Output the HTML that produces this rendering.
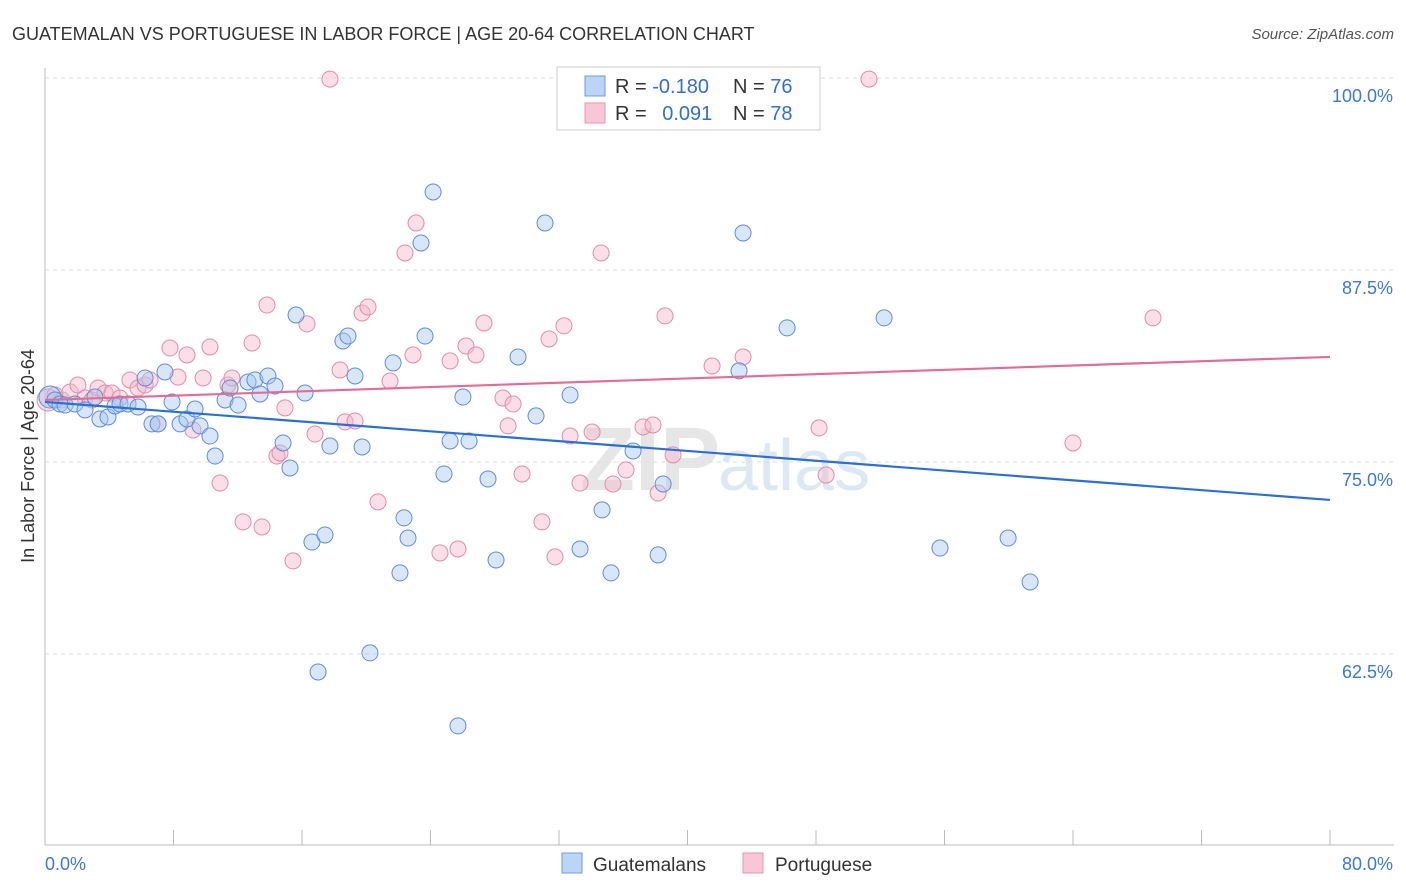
<!DOCTYPE html>
<html><head><meta charset="utf-8">
<style>
body{margin:0;background:#fff;font-family:"Liberation Sans",sans-serif;}
#wrap{position:relative;width:1406px;height:892px;overflow:hidden;}
</style></head>
<body>
<div id="wrap">
<svg id="svg" width="1406" height="892" xmlns="http://www.w3.org/2000/svg">
<text x="12" y="40" font-size="18" fill="#333">GUATEMALAN VS PORTUGUESE IN LABOR FORCE | AGE 20-64 CORRELATION CHART</text>
<text x="1394" y="39" font-size="15" fill="#555" font-style="italic" text-anchor="end">Source: ZipAtlas.com</text>
<text x="720" y="490" font-size="90" font-weight="bold" fill="#e6e6e6" text-anchor="end">ZIP</text>
<text x="718" y="490" font-size="72" fill="#dde8f5">atlas</text>
<g id="grid"></g>
<g id="axes"></g>
<g id="pts"></g>
<g id="lines"></g>
<text transform="translate(34,456) rotate(-90)" font-size="18" fill="#333" text-anchor="middle">In Labor Force | Age 20-64</text>
<g>
<rect x="557" y="67" width="263" height="63" fill="#fff" stroke="#ccc"/>
<rect x="585" y="76" width="20" height="20" fill="#bcd4f5" stroke="#6a9be0"/>
<rect x="585" y="103" width="20" height="20" fill="#f8c6d6" stroke="#e895b2"/>
<text x="615" y="93" font-size="20" fill="#333">R = <tspan fill="#2f6fd6">-0.180</tspan></text>
<text x="733" y="93" font-size="20" fill="#333">N = <tspan fill="#2f6fd6">76</tspan></text>
<text x="615" y="120" font-size="20" fill="#333">R = <tspan fill="#2f6fd6" dx="10">0.091</tspan></text>
<text x="733" y="120" font-size="20" fill="#333">N = <tspan fill="#2f6fd6">78</tspan></text>
</g>
<g>
<rect x="562" y="853" width="20" height="20" fill="#bcd4f5" stroke="#6a9be0"/>
<text x="593" y="871" font-size="19" fill="#333">Guatemalans</text>
<rect x="743" y="853" width="20" height="20" fill="#f8c6d6" stroke="#e895b2"/>
<text x="775" y="871" font-size="19" fill="#333">Portuguese</text>
</g>
</svg>
</div>
<script>
const blueX=[0.31,0.62,0.93,1.25,1.87,2.49,3.11,3.42,3.92,4.36,4.67,5.17,5.79,6.23,6.66,7.04,7.47,7.91,8.41,8.84,9.34,9.65,10.27,10.59,11.21,11.52,12.02,12.64,13.07,13.39,13.88,14.32,14.82,15.25,15.63,16.19,16.62,17.43,17.74,18.55,18.86,19.30,19.74,20.23,17.00,21.67,22.10,22.35,22.60,23.41,23.66,24.16,24.84,25.22,25.71,26.02,26.40,27.58,28.08,29.45,30.57,31.13,32.69,33.31,34.68,35.24,36.61,38.17,38.48,43.21,43.46,46.20,52.24,55.72,59.96,61.33];
const blueY=[79.23,79.04,78.78,78.71,78.78,78.39,79.23,77.80,77.93,78.65,78.78,78.78,78.58,80.47,77.48,77.48,80.86,78.91,77.48,77.80,78.45,77.35,76.69,75.39,79.04,79.82,78.71,80.21,80.34,79.43,80.60,79.95,76.24,74.61,84.57,79.49,69.79,70.25,76.04,82.88,83.20,80.60,75.98,62.57,61.33,81.45,67.78,71.36,70.05,89.26,83.20,92.58,74.22,76.37,57.82,79.23,76.37,73.89,68.62,81.84,78.00,90.56,79.36,69.34,71.88,67.78,75.72,68.95,73.57,80.93,89.91,83.73,84.38,69.40,70.05,67.19];
const pinkX=[0.19,0.62,1.06,1.56,2.05,2.49,2.93,3.30,3.74,4.17,4.67,5.29,5.79,6.23,6.54,7.04,7.78,8.28,8.84,9.21,9.84,10.27,10.90,11.39,11.64,12.33,12.89,13.51,13.82,14.44,14.63,14.94,15.44,16.31,16.81,17.74,18.37,18.68,19.30,19.74,20.11,20.73,21.48,22.41,22.91,23.10,24.59,25.22,25.71,26.21,26.83,27.33,28.51,28.83,29.14,29.70,30.94,31.38,31.75,32.31,32.69,33.31,34.06,34.62,35.36,36.17,37.23,37.85,38.17,38.60,39.10,41.53,43.46,48.19,48.63,51.30,64.00,68.98];
const pinkY=[79.04,79.36,79.04,79.56,80.01,79.17,79.04,79.82,79.49,79.49,79.17,80.34,79.82,80.01,80.34,77.48,82.42,80.53,81.97,77.08,80.47,82.49,73.63,80.01,80.47,71.10,82.75,70.77,85.22,75.39,75.59,78.52,68.56,83.99,76.82,99.93,80.99,77.61,77.67,84.70,85.09,72.40,80.27,88.61,81.97,90.56,69.08,81.58,69.34,82.55,81.97,84.05,79.17,77.35,78.78,74.22,71.10,83.01,68.82,83.86,76.69,73.63,76.95,88.61,73.57,74.48,77.28,77.41,72.98,84.51,75.46,81.25,81.84,77.22,74.15,99.93,76.24,84.38];
const blueTrend=[78.91,72.53];
const pinkTrend=[79.04,81.84];
const yTicks=[100,87.5,75,62.5];
const yTickLabels=["100.0%","87.5%","75.0%","62.5%"];
const xTicks=[0,8,16,24,32,40,48,56,64,72,80];
const xEndLabels=["0.0%","80.0%"];

const X=v=>45+v/80*1285;
const Y=v=>78+(100-v)/12.5*192;
const NS="http://www.w3.org/2000/svg";
function mk(tag,attrs,parent){const e=document.createElementNS(NS,tag);for(const k in attrs)e.setAttribute(k,attrs[k]);document.getElementById(parent).appendChild(e);return e;}

yTicks.forEach((t,i)=>{
  const l=mk('line',{x1:45,x2:1394,y1:Y(t),y2:Y(t),stroke:'#ddd','stroke-dasharray':'4,4'},'grid');
  
  
  const tx=mk('text',{x:1393,y:Y(t)+24,'font-size':18,fill:'#3b78d8','text-anchor':'end'},'grid');
  tx.textContent=yTickLabels[i];
  
  
});
const ax=mk('line',{x1:45,x2:1394,y1:845,y2:845,stroke:'#bbb'},'axes');


const ay=mk('line',{x1:45,x2:45,y1:68,y2:845,stroke:'#bbb'},'axes');


xTicks.forEach(t=>{
  const l=mk('line',{x1:X(t),x2:X(t),y1:830,y2:845,stroke:'#bbb'},'axes');
  
  
});
const xl0=mk('text',{x:45,y:870,'font-size':18,fill:'#3b78d8'},'axes');xl0.textContent=xEndLabels[0];


const xl1=mk('text',{x:1393,y:870,'font-size':18,fill:'#3b78d8','text-anchor':'end'},'axes');xl1.textContent=xEndLabels[1];



function pts(xs,ys,fill,stroke,name){
  xs.forEach((x,i)=>{
    const c=mk('circle',{cx:X(x),cy:Y(ys[i]),r:i===0?11:8,fill:fill,'fill-opacity':0.45,stroke:stroke,'stroke-width':1},'pts');
    
    
  });
}
pts(pinkX,pinkY,'#f5b8cb','#e68aaa','portuguese-point');
pts(blueX,blueY,'#a9c7f0','#5b8fdc','guatemalan-point');
const bl=mk('line',{x1:X(0),y1:Y(blueTrend[0]),x2:X(80),y2:Y(blueTrend[1]),stroke:'#2a6fd8','stroke-width':2.2},'lines');


const pl=mk('line',{x1:X(0),y1:Y(pinkTrend[0]),x2:X(80),y2:Y(pinkTrend[1]),stroke:'#e56b93','stroke-width':2.2},'lines');


</script>
</body></html>
